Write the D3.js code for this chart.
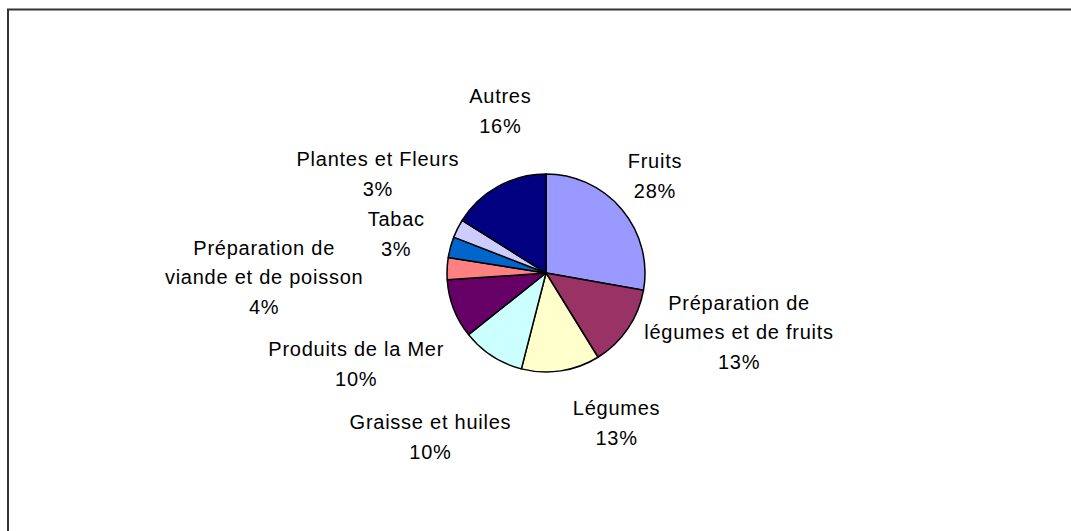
<!DOCTYPE html>
<html>
<head>
<meta charset="utf-8">
<script src="https://cdn.jsdelivr.net/npm/d3@7"></script>
<style>
  html, body { margin: 0; padding: 0; background: #fff; }
  svg { display: block; }
  text { font-family: "Liberation Sans", Arial, sans-serif; font-size: 20px; letter-spacing: 0.75px; fill: #000; }
</style>
</head>
<body>
<svg id="chart" width="1071" height="531"></svg>
<script>
// --- Data (clockwise from 12 o'clock) ---
const categories = [
    "Fruits",
    "Préparation de\nlégumes et de fruits",
    "Légumes",
    "Graisse et huiles",
    "Produits de la Mer",
    "Préparation de\nviande et de poisson",
    "Tabac",
    "Plantes et Fleurs",
    "Autres"
];
const values = [27.8, 13.4, 12.8, 10.3, 9.6, 3.6, 3.4, 3.0, 16.1];
const colors = ["#9999ff", "#993366", "#ffffcc", "#ccffff", "#660066", "#ff8080", "#0066cc", "#ccccff", "#000080"];

// label nudges from the outer label arc (Excel "best fit" placement)
const labelShift = [[-6, -1], [69, -25], [48, 2], [-34, 38], [-50, 37], [-132, 11], [-5, 0], [-34, -32], [27, -31]];

const width = 1071;
const height = 531;
const cx = 546, cy = 273, radius = 99;
const lineH = 29.7;

const svg = d3.select("#chart");

// chart frame (runs off the right and bottom edges)
svg.append("rect")
    .attr("x", 8)
    .attr("y", 9.5)
    .attr("width", width + 20)
    .attr("height", height + 20)
    .attr("fill", "#fff")
    .attr("stroke", "#333")
    .attr("stroke-width", 2);

const data = categories.map((c, i) => ({name: c, value: values[i], color: colors[i], shift: labelShift[i]}));
const total = d3.sum(values);
const pct = d3.format(".0%");

const pie = d3.pie().value(d => d.value).sort(null);
const arc = d3.arc().innerRadius(0).outerRadius(radius);
const labelArc = d3.arc().innerRadius(150).outerRadius(150);

const g = svg.append("g").attr("transform", `translate(${cx},${cy})`);
const arcs = pie(data);

// --- Slices ---
g.selectAll("path")
    .data(arcs)
    .enter()
    .append("path")
    .attr("d", arc)
    .attr("fill", d => d.data.color)
    .attr("stroke", "#000")
    .attr("stroke-width", 1.5)
    .attr("stroke-linejoin", "round");

// --- Labels: name lines + percentage ---
const labels = g.selectAll("text.lbl")
    .data(arcs)
    .enter()
    .append("text")
    .attr("class", "lbl")
    .attr("text-anchor", "middle")
    .attr("transform", d => {
        const [x, y] = labelArc.centroid(d);
        return `translate(${x + d.data.shift[0]},${y + d.data.shift[1]})`;
    });

labels.each(function(d) {
    const lines = d.data.name.split("\n").concat(pct(d.data.value / total));
    const n = lines.length;
    d3.select(this).selectAll("tspan")
        .data(lines)
        .enter()
        .append("tspan")
        .attr("x", 0)
        .attr("y", (t, i) => (i - (n - 1) / 2) * lineH + 7)
        .text(t => t);
});
</script>
</body>
</html>
